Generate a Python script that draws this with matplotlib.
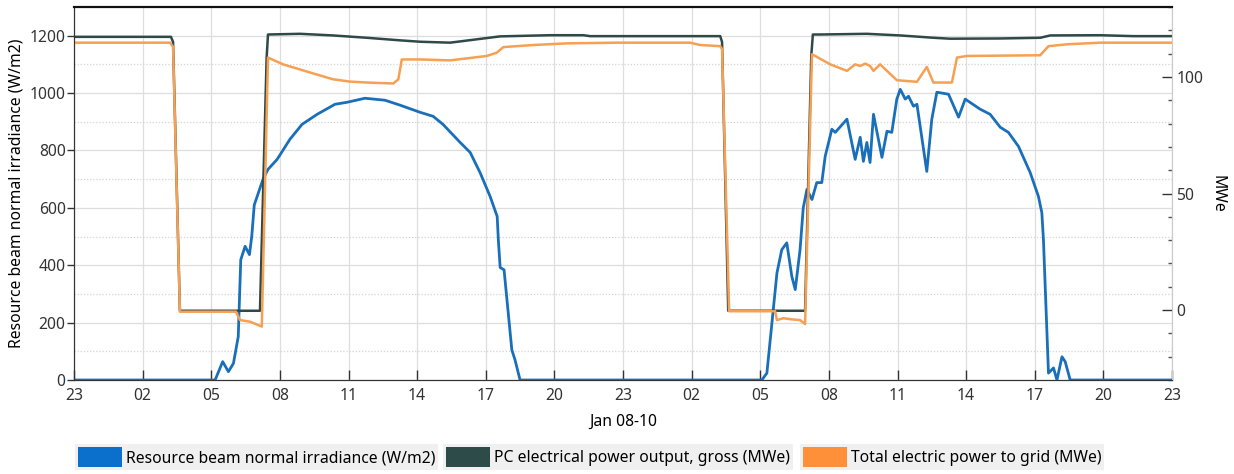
import matplotlib
matplotlib.use('Agg')
import matplotlib.pyplot as plt
from matplotlib.patches import Patch
from matplotlib.ticker import MultipleLocator

plt.rcParams['font.family'] = ['Noto Sans', 'DejaVu Sans']
plt.rcParams['font.size'] = 11.3

# Time axis: hours since 23:00 on Jan 08, tick every 3 h
tick_hours = list(range(0, 49, 3))
tick_labels = ['23', '02', '05', '08', '11', '14', '17', '20', '23',
               '02', '05', '08', '11', '14', '17', '20', '23']

# Resource beam normal irradiance (W/m2)
dni_hours = [0, 6.17, 6.50, 6.75, 6.97, 7.18, 7.29, 7.48, 7.67, 7.77, 7.88, 8.26, 8.48,
             8.88, 9.44, 9.97, 10.63, 11.41, 11.94, 12.72, 13.60, 14.25, 15.13, 15.70,
             16.13, 16.88, 17.32, 17.75, 18.19, 18.50, 18.55, 18.63, 18.80, 19.14, 19.28,
             19.50, 30.07, 30.29, 30.73, 30.94, 31.16, 31.38, 31.53, 31.74, 31.88, 32.04,
             32.26, 32.47, 32.69, 32.84, 33.13, 33.28, 33.79, 34.15, 34.37, 34.51, 34.66,
             34.80, 34.95, 35.32, 35.54, 35.75, 35.97, 36.12, 36.34, 36.48, 36.70, 36.85,
             37.28, 37.50, 37.72, 38.23, 38.67, 38.96, 39.61, 40.05, 40.49, 40.85, 41.29,
             41.80, 42.16, 42.31, 42.38, 42.60, 42.82, 42.97, 43.19, 43.33, 43.55, 48]
dni_values = [0, 0, 64, 29, 58, 151, 419, 466, 437, 500, 610, 699, 734,
              769, 839, 891, 926, 961, 968, 982, 975, 958, 933, 919,
              891, 828, 793, 723, 640, 570, 489, 392, 384, 105, 70,
              0, 0, 24, 373, 454, 478, 361, 315, 454, 600, 664,
              629, 688, 688, 780, 874, 863, 909, 769, 846, 762, 828,
              758, 926, 776, 867, 863, 979, 1013, 979, 989, 954, 961,
              727, 909, 1003, 996, 916, 979, 944, 926, 881, 863, 814,
              723, 640, 583, 489, 24, 42, 0, 81, 64, 0, 0]

# PC electrical power output, gross (MWe)
gross_hours = [0, 4.24, 4.33, 4.63, 8.13, 8.42, 8.48, 9.88, 11.32, 12.80, 14.25, 15.13,
               16.44, 17.90, 18.63, 20.81, 22.27, 22.56, 28.25, 28.33, 28.60, 31.96, 32.23,
               32.30, 32.62, 34.66, 36.12, 37.57, 38.30, 40.49, 42.24, 42.68, 44.86, 46.32, 48]
gross_mwe = [117.2, 117.2, 115, -0.3, -0.3, 108, 118.2, 118.5, 117.8, 116.8, 115.7, 115.1,
             114.7, 116.5, 117.4, 117.9, 117.9, 117.5, 117.5, 115, -0.3, -0.3, 109,
             118.2, 118.2, 118.5, 117.8, 116.8, 116.4, 116.5, 116.8, 117.8, 117.9, 117.5, 117.5]

# Total electric power to grid (MWe)
grid_hours = [0, 4.20, 4.33, 4.63, 7.08, 7.26, 7.70, 8.21, 8.48, 9.14, 10.32, 11.32, 12.07,
              12.80, 13.96, 14.18, 14.33, 15.13, 16.44, 18.05, 18.48, 18.77, 20.08, 21.54,
              23.73, 26.93, 27.37, 28.25, 28.33, 28.64, 30.65, 30.73, 31.01, 31.38, 31.74,
              31.96, 32.26, 32.40, 33.06, 33.79, 34.15, 34.37, 34.59, 34.80, 34.95, 35.24,
              35.54, 35.97, 36.85, 37.28, 37.57, 38.38, 38.60, 39.03, 42.24, 42.60, 43.41,
              44.86, 48]
grid_mwe = [114.7, 114.7, 113, -0.7, -0.7, -4.3, -5, -7.1, 108.3, 105.4, 101.9, 99, 98,
            97.6, 97.2, 99, 107.5, 107.5, 107.1, 109, 110.4, 112.8, 113.7, 114.4,
            114.7, 114.7, 113.7, 113.2, 112, -0.5, -0.5, -4.3, -3.5, -4, -4.3,
            -6, 109.7, 109, 105.4, 102.6, 105.4, 104.7, 105.7, 104.7, 102.6, 105.4,
            102.6, 98.6, 97.9, 104.3, 97.6, 97.6, 108.3, 109, 109.3, 113.2, 114,
            114.7, 114.7]

series_labels = ['Resource beam normal irradiance (W/m2)',
                 'PC electrical power output, gross (MWe)',
                 'Total electric power to grid (MWe)']
line_colors = ['#1a6fba', '#2f4947', '#f5a052']
patch_colors = ['#0b6fcc', '#2d4b48', '#fd9038']

fig = plt.figure(figsize=(12.34, 4.74), dpi=100)
ax = fig.add_axes([74 / 1234, 94 / 474, 1098 / 1234, 373 / 474])
ax2 = ax.twinx()

ax.plot(dni_hours, dni_values, color=line_colors[0], lw=2.0, zorder=3)
ax2.plot(gross_hours, gross_mwe, color=line_colors[1], lw=1.8)
ax2.plot(grid_hours, grid_mwe, color=line_colors[2], lw=1.8)

# left axis: irradiance
ax.set_xlim(0, 48)
ax.set_ylim(0, 1300)
ax.set_yticks(range(0, 1201, 200))
ax.yaxis.set_minor_locator(MultipleLocator(100))
ax.set_xticks(tick_hours)
ax.set_xticklabels(tick_labels)
ax.grid(which='major', color='#dedede', lw=0.9)
ax.grid(which='minor', axis='y', color='#d4d4d4', lw=0.9, linestyle=(0, (1, 1.5)))
ax.set_axisbelow(True)
ax.tick_params(axis='x', direction='in', length=7, width=1, pad=6, colors='#333333')
ax.tick_params(axis='y', which='major', direction='out', length=5, width=1, pad=1,
               colors='#333333')
ax.tick_params(axis='y', which='minor', length=0)
ax.set_ylabel('Resource beam normal irradiance (W/m2)', labelpad=4)
ax.set_xlabel('Jan 08-10', labelpad=7)

# right axis: power
ax2.set_ylim(-30, 130)
ax2.set_yticks([0, 50, 100])
ax2.yaxis.set_minor_locator(MultipleLocator(10))
ax2.tick_params(axis='y', which='major', direction='in', length=7, width=1, pad=3,
                colors='#333333')
ax2.tick_params(axis='y', which='minor', direction='in', length=3, width=1,
                colors='#555555')
ax2.set_ylabel('MWe', rotation=270, labelpad=16)

for a in (ax, ax2):
    a.spines['left'].set_color('#333333')
    a.spines['bottom'].set_color('#333333')
    a.spines['top'].set_color('#111111')
    a.spines['top'].set_linewidth(1.5)
    a.spines['right'].set_color('#cccccc')

# legend entries, each on its own grey strip
legend_left = [75, 443, 800]
for label, color, left in zip(series_labels, patch_colors, legend_left):
    leg = fig.legend(handles=[Patch(facecolor=color, edgecolor='none', label=label)],
                     loc='upper left', bbox_to_anchor=(left / 1234, 1 - 444 / 474),
                     frameon=True, fancybox=False,
                     handlelength=2.8, handleheight=1.5, handletextpad=0.2,
                     borderpad=0.22, borderaxespad=0)
    leg.get_frame().set_facecolor('#f0f0f0')
    leg.get_frame().set_edgecolor('none')
    leg.get_frame().set_alpha(1)

fig.savefig('out.png', dpi=100)
